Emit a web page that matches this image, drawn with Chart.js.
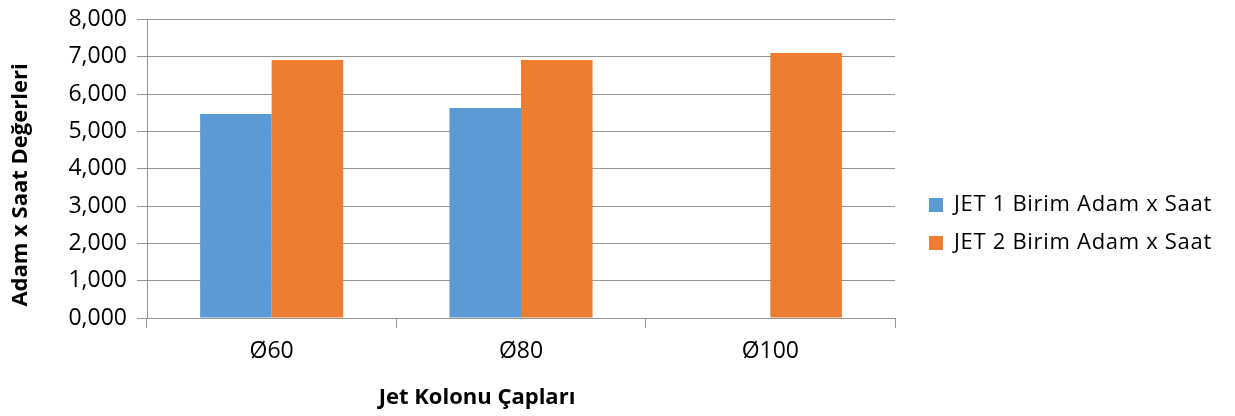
<!DOCTYPE html>
<html>
<head>
<meta charset="utf-8">
<script src="https://cdn.jsdelivr.net/npm/chart.js@4.4.1/dist/chart.umd.min.js"></script>
<style>
  html, body { margin: 0; padding: 0; background: #ffffff; }
  #wrap { width: 1235px; height: 416px; }
</style>
</head>
<body>
<div id="wrap"><canvas id="chart" width="1235" height="416"></canvas></div>
<script>
// Column diameters and man-hour values per jet system
const categories = ['Ø60', 'Ø80', 'Ø100'];
const seriesNames = ['JET 1 Birim Adam x Saat', 'JET 2 Birim Adam x Saat'];
const jet1Values = [5.464, 5.625, null];
const jet2Values = [6.912, 6.912, 7.099];
const yTickLabels = ['0,000', '1,000', '2,000', '3,000', '4,000', '5,000', '6,000', '7,000', '8,000'];
const xAxisTitle = 'Jet Kolonu Çapları';
const yAxisTitle = 'Adam x Saat Değerleri';

// Styling
const W = 1235, H = 416;
const FONT = '"Open Sans", "DejaVu Sans", sans-serif';
const GRID = '#959595';
const BLUE = '#5B9BD5';
const ORANGE = '#ED7D31';
const TICK_SIZE = 23;
const LEGEND_SIZE = 22;
const LEGEND_SPACING = 0.7;
const TITLE_SIZE = 22;
const PLOT = { left: 147, right: 895, top: 19.4, bottom: 318 };
const LEGEND = { boxX: 929, pad: 16, top: 178, box: 14 };

Chart.defaults.font.family = FONT;
Chart.defaults.color = '#000000';

// Legend width as Chart.js computes it: padding + box + half font + text + 10
const measure = document.createElement('canvas').getContext('2d');
measure.font = LEGEND_SIZE + 'px ' + FONT;
const legendTextW = Math.max(...seriesNames.map(s => measure.measureText(s).width));
const legendW = LEGEND.pad + LEGEND.box + LEGEND_SIZE / 2 + legendTextW + 10;
const padRight = W - PLOT.right - legendW;

// Move the legend block to its final spot after layout and space its letters
const legendPlacement = {
  id: 'legendPlacement',
  afterLayout(chart) {
    const lg = chart.legend;
    if (!lg) return;
    const dx = (LEGEND.boxX - LEGEND.pad) - lg.left;
    lg.left += dx;
    lg.right = W;
    lg.width = lg.right - lg.left;
    const dy = LEGEND.top - lg.top;
    lg.top += dy; lg.bottom += dy;
    if (!lg._spacedDraw) {
      const baseDraw = lg.draw;
      lg.draw = function (area) {
        const c = this.ctx;
        const prev = c.letterSpacing;
        c.letterSpacing = LEGEND_SPACING + 'px';
        baseDraw.call(this, area);
        c.letterSpacing = prev || '0px';
      };
      lg._spacedDraw = true;
    }
  }
};

// Axis titles
const axisTitles = {
  id: 'axisTitles',
  afterDraw(chart) {
    const c = chart.ctx;
    c.save();
    c.fillStyle = '#000000';
    c.font = 'bold ' + TITLE_SIZE + 'px ' + FONT;
    c.textAlign = 'center';
    c.textBaseline = 'middle';
    c.fillText(xAxisTitle, 477, 397.5);
    c.translate(21, 185);
    c.rotate(-Math.PI / 2);
    c.fillText(yAxisTitle, 0, 0);
    c.restore();
  }
};

new Chart(document.getElementById('chart'), {
  type: 'bar',
  data: {
    labels: categories,
    datasets: [
      { label: seriesNames[0], data: jet1Values, backgroundColor: BLUE },
      { label: seriesNames[1], data: jet2Values, backgroundColor: ORANGE }
    ]
  },
  options: {
    responsive: false,
    animation: false,
    devicePixelRatio: 1,
    layout: { padding: { left: 0, top: PLOT.top, right: padRight, bottom: 0 } },
    datasets: { bar: { categoryPercentage: 0.574, barPercentage: 1, borderWidth: 0 } },
    plugins: {
      tooltip: { enabled: false },
      legend: {
        position: 'right',
        align: 'start',
        labels: {
          boxWidth: LEGEND.box,
          boxHeight: LEGEND.box,
          padding: LEGEND.pad,
          color: '#000000',
          font: { size: LEGEND_SIZE }
        }
      }
    },
    scales: {
      x: {
        grid: { drawOnChartArea: false, color: GRID, tickLength: 10, offset: true },
        border: { color: GRID },
        ticks: { padding: 10, color: '#000000', font: { size: TICK_SIZE }, maxRotation: 0 },
        afterFit(s) {
          s.height = H - PLOT.bottom;
          s.paddingLeft = 0; s.paddingRight = 0;
        }
      },
      y: {
        min: 0,
        max: 8,
        ticks: {
          stepSize: 1,
          padding: 10,
          color: '#000000',
          font: { size: TICK_SIZE },
          callback: v => yTickLabels[v]
        },
        grid: { color: GRID, tickLength: 10 },
        border: { color: GRID },
        afterFit(s) {
          s.width = PLOT.left;
          s.paddingTop = 0; s.paddingBottom = 0;
        }
      }
    }
  },
  plugins: [legendPlacement, axisTitles]
});
</script>
</body>
</html>
